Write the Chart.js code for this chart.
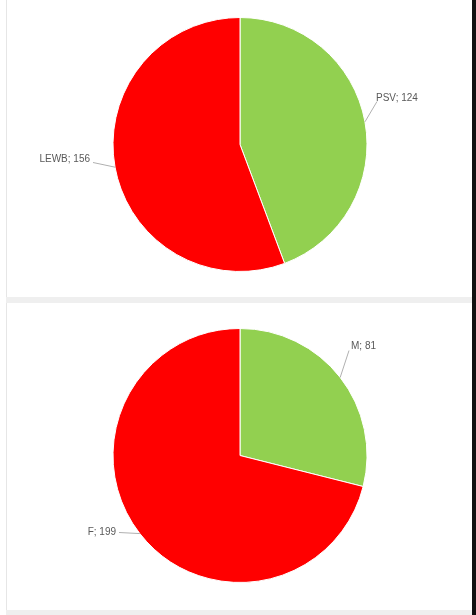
<!DOCTYPE html>
<html>
<head>
<meta charset="utf-8">
<script src="https://cdn.jsdelivr.net/npm/chart.js@4/dist/chart.umd.min.js"></script>
<style>
  html, body { margin: 0; padding: 0; background: #fff; }
  #page { position: relative; width: 476px; height: 615px; background: #fff; overflow: hidden; }
  .box { position: absolute; left: 6px; width: 466px; background: #fff; border-left: 1px solid #e6e6e6; box-sizing: border-box; }
  #box1 { top: 0; height: 297px; }
  #box2 { top: 303px; height: 307px; }
  .sep { position: absolute; left: 6px; width: 466px; background: #efefef; }
  #sep1 { top: 297px; height: 6px; }
  #sep2 { top: 610px; height: 5px; }
  #bar { position: absolute; left: 472px; top: 0; width: 4px; height: 615px; background: #111; }
  canvas { display: block; }
</style>
</head>
<body>
<div id="page">
  <div class="box" id="box1"><canvas id="c1" width="465" height="297"></canvas></div>
  <div class="sep" id="sep1"></div>
  <div class="box" id="box2"><canvas id="c2" width="465" height="307"></canvas></div>
  <div class="sep" id="sep2"></div>
  <div id="bar"></div>
</div>
<script>
// ---- data ----
const categories1 = ["PSV", "LEWB"];
const values1 = [124, 156];
const categories2 = ["M", "F"];
const values2 = [81, 199];
const sliceColors = ["#92D050", "#FF0000"];

// label placement plugin (Excel-like data labels with leader lines)
const leaderLabels = {
  id: 'leaderLabels',
  afterDatasetsDraw(chart, args, opts) {
    const ctx = chart.ctx;
    const meta = chart.getDatasetMeta(0);
    const data = chart.data.datasets[0].data;
    const labels = chart.data.labels;
    ctx.save();
    ctx.font = '10px "Liberation Sans", Arial, sans-serif';
    ctx.textBaseline = 'middle';
    meta.data.forEach((arc, i) => {
      const p = opts.place[i];
      const mid = (arc.startAngle + arc.endAngle) / 2;
      const ax = arc.x + Math.cos(mid) * arc.outerRadius;
      const ay = arc.y + Math.sin(mid) * arc.outerRadius;
      const tx = arc.x + p.dx, ty = arc.y + p.dy;
      ctx.strokeStyle = '#b0b0b0';
      ctx.lineWidth = 1;
      ctx.beginPath();
      ctx.moveTo(ax, ay);
      ctx.lineTo(p.lx + arc.x, p.ly + arc.y);
      ctx.stroke();
      ctx.fillStyle = '#595959';
      ctx.textAlign = p.align;
      ctx.fillText(labels[i] + '; ' + data[i], tx, ty);
    });
    ctx.restore();
  }
};

function makePie(id, cats, vals, pad, place) {
  new Chart(document.getElementById(id), {
    type: 'pie',
    data: {
      labels: cats,
      datasets: [{ data: vals, backgroundColor: sliceColors, borderColor: '#ffffff', borderWidth: 1 }]
    },
    options: {
      responsive: false,
      animation: false,
      layout: { padding: pad },
      plugins: {
        legend: { display: false },
        tooltip: { enabled: false },
        leaderLabels: { place: place }
      }
    },
    plugins: [leaderLabels]
  });
}

makePie('c1', categories1, values1,
  { top: 17, bottom: 25, left: 1, right: 0 },
  [ { dx: 136, dy: -46, lx: 137, ly: -43, align: 'left' },
    { dx: -150, dy: 15, lx: -147, ly: 18, align: 'right' } ]);

makePie('c2', categories2, values2,
  { top: 25, bottom: 27, left: 1, right: 0 },
  [ { dx: 111, dy: -109, lx: 109, ly: -105, align: 'left' },
    { dx: -124, dy: 77, lx: -121, ly: 77, align: 'right' } ]);
</script>
</body>
</html>
